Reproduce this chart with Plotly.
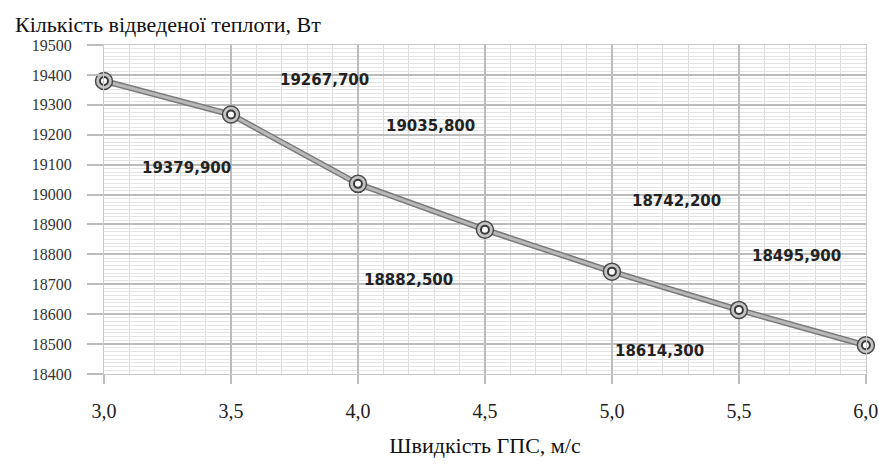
import plotly.graph_objects as go

# ---- data ----
speed = [3.0, 3.5, 4.0, 4.5, 5.0, 5.5, 6.0]
heat = [19379.9, 19267.7, 19035.8, 18882.5, 18742.2, 18614.3, 18495.9]
value_labels = ["19379,900", "19267,700", "19035,800", "18882,500",
                "18742,200", "18614,300", "18495,900"]
# label placement (data coordinates of label centres, as in the source chart)
label_x = [3.325, 3.867, 4.286, 4.20, 5.255, 5.188, 5.725]
label_y = [19089, 19383, 19229, 18714, 18978, 18477, 18794]

x_ticks = [3.0, 3.5, 4.0, 4.5, 5.0, 5.5, 6.0]
x_ticktext = ["3,0", "3,5", "4,0", "4,5", "5,0", "5,5", "6,0"]
y_ticks = list(range(18400, 19501, 100))
y_ticktext = [str(v) for v in y_ticks]

y_title = "Кількість відведеної теплоти, Вт"
x_title = "Швидкість ГПС, м/с"

serif = "Liberation Serif, DejaVu Serif, Times New Roman, serif"

fig = go.Figure()
# outer darker line
fig.add_trace(go.Scatter(x=speed, y=heat, mode="lines",
                         line=dict(color="#7a7a7a", width=6), hoverinfo="skip",
                         cliponaxis=False))
# inner lighter line
fig.add_trace(go.Scatter(x=speed, y=heat, mode="lines",
                         line=dict(color="#b8b8b8", width=3), hoverinfo="skip",
                         cliponaxis=False))
# markers: outer ring
fig.add_trace(go.Scatter(x=speed, y=heat, mode="markers",
                         marker=dict(symbol="circle", size=17, color="#c4c4c4",
                                     line=dict(color="#4a4a4a", width=1.5)),
                         cliponaxis=False))
# markers: inner ring
fig.add_trace(go.Scatter(x=speed, y=heat, mode="markers",
                         marker=dict(symbol="circle", size=8, color="#ffffff",
                                     line=dict(color="#3a3a3a", width=2)),
                         cliponaxis=False))

for lx, ly, t in zip(label_x, label_y, value_labels):
    fig.add_annotation(x=lx, y=ly, text=t, showarrow=False,
                       font=dict(family="DejaVu Sans", size=15, color="#222222",
                                 weight="bold"),
                       xanchor="center", yanchor="middle")

fig.add_annotation(xref="paper", yref="paper", x=-0.12, y=1.0,
                   xanchor="left", yanchor="bottom", yshift=6, showarrow=False,
                   text=y_title, font=dict(family=serif, size=22, color="#111111"))

fig.update_layout(
    width=879, height=466,
    margin=dict(l=104, r=13, t=45, b=92),
    plot_bgcolor="#ffffff", paper_bgcolor="#ffffff",
    showlegend=False,
    xaxis=dict(
        range=[3.0, 6.0005], tickvals=x_ticks, ticktext=x_ticktext,
        automargin=False, ticklabeloverflow="allow",
        showgrid=True, gridcolor="#bcbcbc", gridwidth=2,
        ticks="outside", ticklen=9, tickcolor="#bcbcbc", tickwidth=2,
        ticklabelstandoff=10,
        tickfont=dict(family=serif, size=20, color="#222222"),
        zeroline=False, showline=True, linecolor="#c8c8c8", linewidth=1, mirror=True,
        minor=dict(dtick=0.1, showgrid=True, gridcolor="#dcdcdc", gridwidth=1),
        title=dict(text=x_title, font=dict(family=serif, size=22, color="#111111"),
                   standoff=16),
    ),
    yaxis=dict(
        range=[18400, 19500], tickvals=y_ticks, ticktext=y_ticktext,
        automargin=False,
        showgrid=True, gridcolor="#bcbcbc", gridwidth=2,
        ticks="outside", ticklen=16, tickcolor="#bcbcbc", tickwidth=2,
        ticklabelstandoff=12,
        tickfont=dict(family=serif, size=16, color="#333333"),
        zeroline=False, showline=True, linecolor="#c8c8c8", linewidth=1, mirror=True,
        minor=dict(dtick=12.5, showgrid=True, gridcolor="#e4e4e4", gridwidth=1),
    ),
)

fig.write_html("out.html",
               config={"displayModeBar": False},
               post_script="document.body.style.margin='0';"
                           "document.body.style.overflow='hidden';")
